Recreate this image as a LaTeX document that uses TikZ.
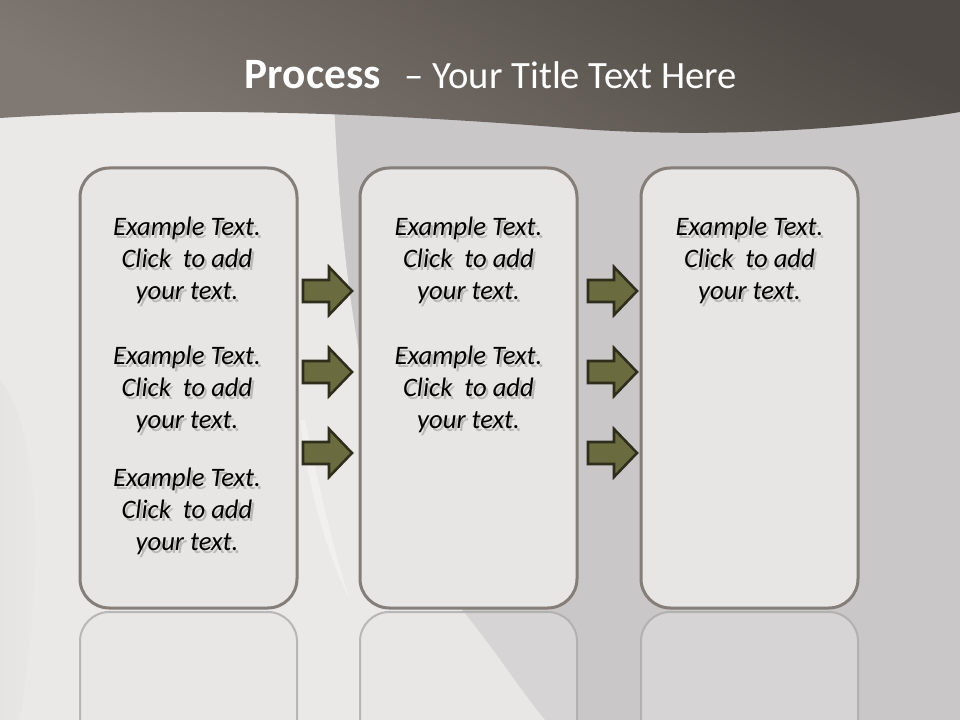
\documentclass[tikz,border=0pt]{standalone}
\usepackage{fontspec}
\setmainfont{Carlito}
\definecolor{bandDark}{HTML}{4E4944}
\definecolor{bandLight}{HTML}{807872}
\definecolor{grayBg}{HTML}{C9C7C8}
\definecolor{lightBg}{HTML}{EBE9E7}
\definecolor{boxFill}{HTML}{E8E6E4}
\definecolor{boxLine}{HTML}{857D77}
\definecolor{reflLine}{HTML}{ADABA9}
\definecolor{arrowFill}{HTML}{6B6B40}
\definecolor{arrowLine}{HTML}{2F2E1D}
\definecolor{shadowGray}{HTML}{BAB8B6}
\tikzset{
  box/.style={draw=boxLine, fill=boxFill, line width=2.25pt, rounded corners=22pt,
    minimum width=162.75pt, minimum height=330pt, inner sep=0pt},
  refl/.style={draw=reflLine, line width=1.5pt, fill=boxFill, fill opacity=0.45, draw opacity=0.8, rounded corners=22pt},
  bodytext/.style={align=center, font=\itshape\fontsize{20}{24}\selectfont, text=black, inner sep=0pt},
  arrowst/.style={draw=arrowLine, fill=arrowFill, line width=1.9pt, line join=miter},
  titletext/.style={text=white, font=\fontsize{29}{36}\selectfont, inner sep=0pt}
}
\newcommand\shline[1]{\makebox[0pt][l]{\kern1.9pt\raisebox{-2.6pt}{\color{shadowGray}#1}}#1}
\newcommand\exampletext{\shline{Example Text.}\\\shline{Click\ \ to add}\\\shline{your text.}}
\newcommand\blockarrow[2]{%
  \draw[arrowst] (#1,{#2-11}) -- ({#1+26},{#2-11}) -- ({#1+26},{#2-24}) -- ({#1+49},#2)
    -- ({#1+26},{#2+24}) -- ({#1+26},{#2+11}) -- (#1,{#2+11}) -- cycle;}
\begin{document}
\begin{tikzpicture}[x=0.75pt,y=-0.75pt]
\useasboundingbox (0,0) rectangle (960,720);
% background
\fill[grayBg] (0,0) rectangle (960,720);
\fill[lightBg] (0,100) -- (334,100) .. controls (342,300) and (370,500) .. (462,610)
  .. controls (495,650) and (520,690) .. (545,720) -- (0,720) -- cycle;
\shade[left color=black!12, right color=lightBg, opacity=0.5]
  (0,380) .. controls (40,430) and (45,560) .. (20,720) -- (0,720) -- cycle;
\fill[white, opacity=0.35] (300,420) .. controls (310,500) and (330,560) .. (350,600)
  .. controls (330,540) and (318,480) .. (305,420) -- cycle;
% title band
\shade[top color=bandDark, bottom color=bandLight, shading angle=-30]
  (0,0) -- (960,0) -- (960,112) .. controls (820,135) and (680,136) .. (580,129)
  .. controls (430,117) and (220,104) .. (0,118) -- cycle;
\node[titletext] (title) at (491,75) {{\fontsize{32.5}{36}\selectfont\textbf{Process}}\ \ \,– Your Title Text Here};
% reflections
\draw[refl] (80,740) -- (80,612) -- (297,612) -- (297,740);
\draw[refl] (360,740) -- (360,612) -- (577,612) -- (577,740);
\draw[refl] (641,740) -- (641,612) -- (858,612) -- (858,740);
% boxes
\node[box] (b1) at (188.5,388) {};
\node[box] (b2) at (468.5,388) {};
\node[box] (b3) at (749.5,388) {};
% texts
\node[bodytext] (t11) at (187,262) {\exampletext};
\node[bodytext] (t12) at (187,391) {\exampletext};
\node[bodytext] (t13) at (187,513) {\exampletext};
\node[bodytext] (t21) at (468.5,262) {\exampletext};
\node[bodytext] (t22) at (468.5,391) {\exampletext};
\node[bodytext] (t31) at (749.5,262) {\exampletext};
% arrows
\blockarrow{303}{291}
\blockarrow{303}{372}
\blockarrow{303}{453}
\blockarrow{588}{291}
\blockarrow{588}{372}
\blockarrow{588}{453}
\end{tikzpicture}
\end{document}
